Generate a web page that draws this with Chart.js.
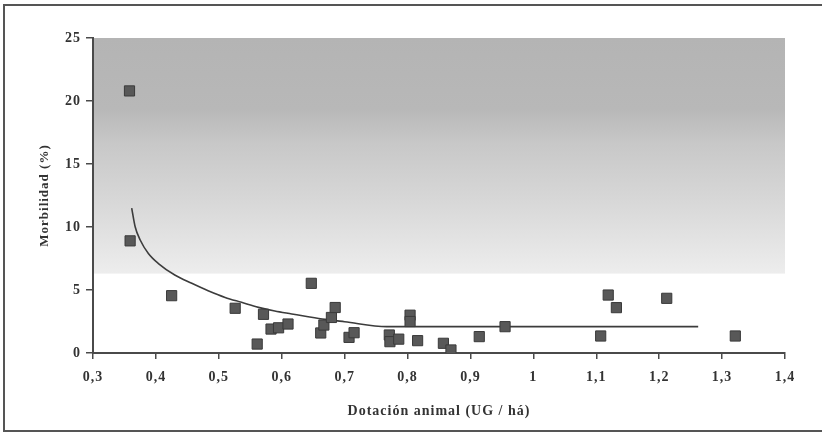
<!DOCTYPE html>
<html>
<head>
<meta charset="utf-8">
<script src="https://cdn.jsdelivr.net/npm/chart.js@4"></script>
<style>
  html, body { margin: 0; padding: 0; background: #fff; }
  #wrap { width: 822px; height: 434px; }
</style>
</head>
<body>
<div id="wrap"><canvas id="morbChart" width="822" height="434"></canvas></div>
<script>
// observed points: stocking rate (UG/ha) vs morbidity (%)
const dotacion = [0.358, 0.359, 0.425, 0.526, 0.561, 0.571, 0.583, 0.595, 0.610, 0.647,
  0.662, 0.667, 0.679, 0.685, 0.707, 0.715, 0.771, 0.772, 0.786, 0.804, 0.804,
  0.816, 0.857, 0.869, 0.914, 0.955, 1.107, 1.119, 1.132, 1.212, 1.321];
const morbilidad = [20.8, 8.9, 4.55, 3.55, 0.71, 3.07, 1.9, 2.0, 2.3, 5.53,
  1.59, 2.22, 2.82, 3.61, 1.24, 1.61, 1.43, 0.9, 1.1, 3.0, 2.5,
  0.98, 0.77, 0.24, 1.3, 2.09, 1.35, 4.6, 3.6, 4.34, 1.35];

// fitted trend line
const curvaX = [0.3615, 0.367, 0.375, 0.388, 0.404, 0.430, 0.457, 0.483, 0.510, 0.536, 0.563,
  0.589, 0.616, 0.642, 0.669, 0.700, 0.767, 0.85, 1.0, 1.262];
const curvaY = [11.5, 10.02, 8.97, 7.9, 7.1, 6.19, 5.53, 4.94, 4.41, 4.02, 3.62,
  3.33, 3.10, 2.88, 2.67, 2.48, 2.09, 2.09, 2.09, 2.09];

const xTicks = [0.3, 0.4, 0.5, 0.6, 0.7, 0.8, 0.9, 1, 1.1, 1.2, 1.3, 1.4];
const yTicks = [0, 5, 10, 15, 20, 25];

const axisColor = "#4a4a4a";
const serif = "'Liberation Serif', 'DejaVu Serif', serif";

// shaded band behind the upper part of the plot + outer frame
const decor = {
  id: "decor",
  beforeDraw(chart) {
    const { ctx, chartArea, scales } = chart;
    ctx.save();
    const top = scales.y.getPixelForValue(25);
    const bot = scales.y.getPixelForValue(6.3);
    const g = ctx.createLinearGradient(0, top, 0, bot);
    g.addColorStop(0, "#b4b4b4");
    g.addColorStop(0.3, "#b8b8b8");
    g.addColorStop(0.45, "#c8c8c8");
    g.addColorStop(0.7, "#d8d8d8");
    g.addColorStop(1, "#ededed");
    ctx.fillStyle = g;
    ctx.fillRect(chartArea.left, top, chartArea.right - chartArea.left, bot - top);
    ctx.strokeStyle = "#555";
    ctx.lineWidth = 2;
    ctx.strokeRect(4, 5, 840, 426);
    ctx.restore();
    ctx.letterSpacing = "1px";
  },
};

new Chart(document.getElementById("morbChart").getContext("2d"), {
  type: "scatter",
  data: {
    datasets: [
      {
        label: "Tendencia",
        type: "line",
        data: curvaX.map((x, i) => ({ x, y: curvaY[i] })),
        borderColor: "#3c3c3c",
        borderWidth: 1.6,
        pointRadius: 0,
        cubicInterpolationMode: "monotone",
        fill: false,
        order: 2,
      },
      {
        label: "Morbilidad",
        data: dotacion.map((x, i) => ({ x, y: morbilidad[i] })),
        pointStyle: "rect",
        pointRadius: 7.2,
        backgroundColor: "#585858",
        borderColor: "#3a3a3a",
        borderWidth: 1,
        order: 1,
      },
    ],
  },
  options: {
    responsive: false,
    animation: false,
    layout: { padding: { left: 33, top: 38, right: 37, bottom: 14 } },
    plugins: { legend: { display: false }, tooltip: { enabled: false } },
    scales: {
      x: {
        type: "linear",
        min: 0.3,
        max: 1.4,
        afterBuildTicks: (s) => { s.ticks = xTicks.map((v) => ({ value: v })); },
        afterFit: (s) => { s.height = 67; },
        grid: { drawOnChartArea: false, tickLength: 6, color: axisColor, lineWidth: 1.5 },
        border: { color: axisColor, width: 2 },
        ticks: {
          color: "#333",
          padding: 10,
          font: { family: serif, size: 14, weight: "bold" },
          callback: (v) => String(Math.round(v * 10) / 10).replace(".", ","),
        },
        title: {
          display: true,
          text: "Dotación animal (UG / há)",
          color: "#333",
          padding: { top: 2, bottom: 0 },
          font: { family: serif, size: 14, weight: "bold" },
        },
      },
      y: {
        min: 0,
        max: 25,
        afterBuildTicks: (s) => { s.ticks = yTicks.map((v) => ({ value: v })); },
        afterFit: (s) => { s.width = 60; },
        grid: { drawOnChartArea: false, tickLength: 7, color: axisColor, lineWidth: 1.5 },
        border: { color: axisColor, width: 2 },
        ticks: {
          color: "#333",
          padding: 5,
          font: { family: serif, size: 14, weight: "bold" },
        },
        title: {
          display: true,
          text: "Morbilidad (%)",
          color: "#333",
          padding: { bottom: 4 },
          font: { family: serif, size: 13, weight: "bold" },
        },
      },
    },
  },
  plugins: [decor],
});
</script>
</body>
</html>
